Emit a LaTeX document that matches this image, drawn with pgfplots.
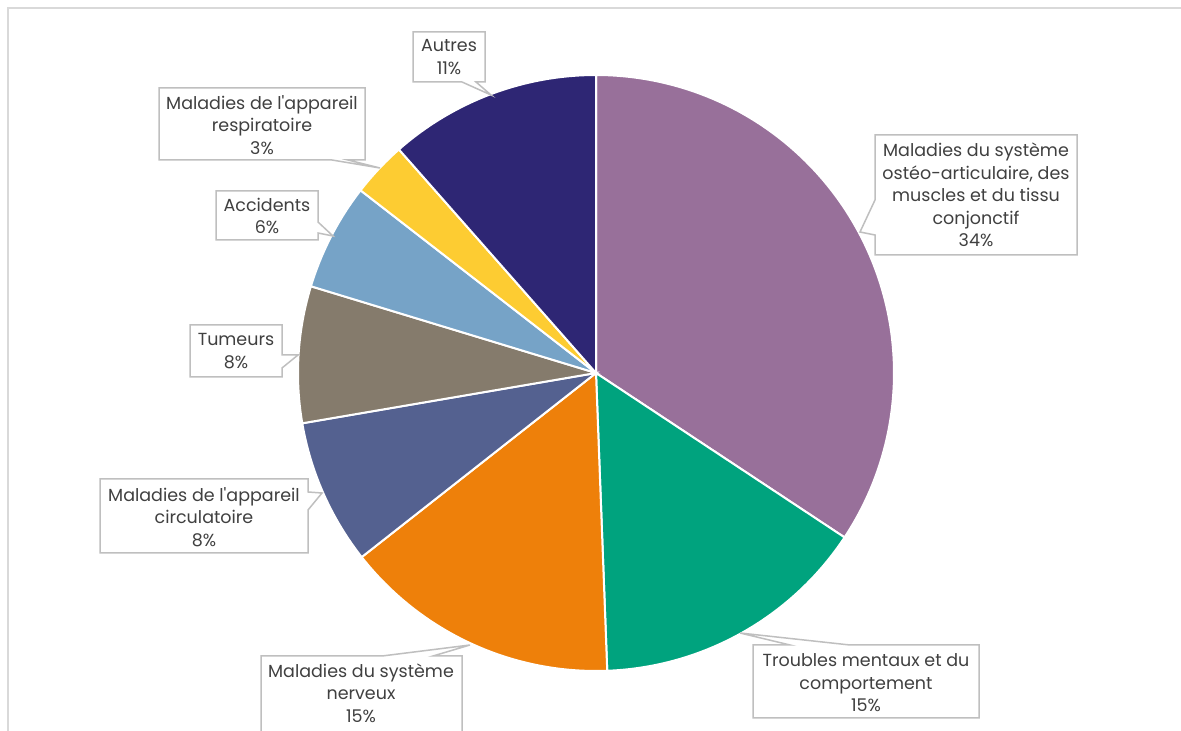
\documentclass[border=0pt]{standalone}
\usepackage{pgfplots}
\pgfplotsset{compat=1.18}
\usepackage{fontspec}
\setmainfont{Poppins}[Ligatures=TeXOff]
\definecolor{cA}{HTML}{98709A}
\definecolor{cB}{HTML}{00A37E}
\definecolor{cC}{HTML}{EE800A}
\definecolor{cD}{HTML}{546190}
\definecolor{cE}{HTML}{857B6C}
\definecolor{cF}{HTML}{76A3C7}
\definecolor{cG}{HTML}{FDCC32}
\definecolor{cH}{HTML}{2E2674}
\definecolor{boxgray}{HTML}{BFBFBF}
\definecolor{framegray}{HTML}{D9D9D9}
\definecolor{txt}{HTML}{404040}
% slice values (percent), clockwise from 12 o'clock
\def\vA{34.3} % Maladies du systeme osteo-articulaire
\def\vB{15.1} % Troubles mentaux et du comportement
\def\vC{15.0} % Maladies du systeme nerveux
\def\vD{7.9}  % Maladies de l'appareil circulatoire
\def\vE{7.4}  % Tumeurs
\def\vF{5.8}  % Accidents
\def\vG{3.0}  % Maladies de l'appareil respiratoire
\def\vH{11.5} % Autres
\pgfmathsetmacro\aA{90}
\pgfmathsetmacro\aB{\aA-3.6*\vA}
\pgfmathsetmacro\aC{\aB-3.6*\vB}
\pgfmathsetmacro\aD{\aC-3.6*\vC}
\pgfmathsetmacro\aE{\aD-3.6*\vD}
\pgfmathsetmacro\aF{\aE-3.6*\vE}
\pgfmathsetmacro\aG{\aF-3.6*\vF}
\pgfmathsetmacro\aH{\aG-3.6*\vG}
\pgfmathsetmacro\aI{\aH-3.6*\vH}
\newcommand{\slice}[3]{%
  \addplot[fill=#3, draw=white, line width=2pt, domain=#2:#1, samples=120, variable=\t]
    ({596+298*cos(\t)}, {358+298*sin(\t)}) -- (axis cs:596,358) -- cycle;}
\begin{document}
\begin{tikzpicture}
\useasboundingbox (0,0) rectangle (1181pt,731pt);
\begin{axis}[at={(0,0)}, anchor=south west, width=1181pt, height=731pt,
  scale only axis, xmin=0, xmax=1181, ymin=0, ymax=731, hide axis, clip=false]
\draw[framegray, line width=2pt] (axis cs:7.5,-20) -- (axis cs:7.5,722.5) -- (axis cs:1200,722.5);
\slice{\aA}{\aB}{cA}
\slice{\aB}{\aC}{cB}
\slice{\aC}{\aD}{cC}
\slice{\aD}{\aE}{cD}
\slice{\aE}{\aF}{cE}
\slice{\aF}{\aG}{cF}
\slice{\aG}{\aH}{cG}
\slice{\aH}{\aI}{cH}
\tikzset{cbox/.style={draw=boxgray, line width=1.5pt, fill=white},
  lbl/.style={align=center, text=txt, font=\fontsize{17.5}{22.5}\selectfont, inner sep=0pt}}
% Autres
\draw[cbox] (axis cs:413,699) -- (axis cs:485,699) -- (axis cs:485,649) -- (axis cs:476,649) -- (axis cs:491,636) -- (axis cs:462,649) -- (axis cs:413,649) -- cycle;
\node[lbl] at (axis cs:449,674) {Autres\\11\%};
% Respiratoire
\draw[cbox] (axis cs:159,643) -- (axis cs:365,643) -- (axis cs:365,571) -- (axis cs:348,571) -- (axis cs:380,563) -- (axis cs:332,571) -- (axis cs:159,571) -- cycle;
\node[lbl] at (axis cs:262,606) {Maladies de l'appareil\\respiratoire\\3\%};
% Accidents
\draw[cbox] (axis cs:216,540) -- (axis cs:318,540) -- (axis cs:318,509) -- (axis cs:333,495) -- (axis cs:318,498) -- (axis cs:318,491) -- (axis cs:216,491) -- cycle;
\node[lbl] at (axis cs:267,515) {Accidents\\6\%};
% Tumeurs
\draw[cbox] (axis cs:190,406) -- (axis cs:282,406) -- (axis cs:282,376) -- (axis cs:298,376) -- (axis cs:282,363) -- (axis cs:282,354) -- (axis cs:190,354) -- cycle;
\node[lbl] at (axis cs:236,380) {Tumeurs\\8\%};
% Circulatoire
\draw[cbox] (axis cs:100,252) -- (axis cs:308,252) -- (axis cs:308,239) -- (axis cs:322,238) -- (axis cs:308,221) -- (axis cs:308,178) -- (axis cs:100,178) -- cycle;
\node[lbl] at (axis cs:204,214) {Maladies de l'appareil\\circulatoire\\8\%};
% Nerveux
\draw[cbox] (axis cs:261,75) -- (axis cs:382,75) -- (axis cs:470,86) -- (axis cs:433,75) -- (axis cs:462,75) -- (axis cs:462,-10) -- (axis cs:261,-10) -- cycle;
\node[lbl] at (axis cs:361,38) {Maladies du système\\nerveux\\15\%};
% Troubles
\draw[cbox] (axis cs:753,86) -- (axis cs:790,86) -- (axis cs:740,98) -- (axis cs:850,86) -- (axis cs:979,86) -- (axis cs:979,13) -- (axis cs:753,13) -- cycle;
\node[lbl] at (axis cs:866,48) {Troubles mentaux et du\\comportement\\15\%};
% Osteo
\draw[cbox] (axis cs:875,596) -- (axis cs:1077,596) -- (axis cs:1077,476) -- (axis cs:875,476) -- (axis cs:875,496) -- (axis cs:860,499) -- (axis cs:875,531) -- cycle;
\node[lbl] at (axis cs:976,536) {Maladies du système\\ostéo-articulaire, des\\muscles et du tissu\\conjonctif\\34\%};
\end{axis}
\end{tikzpicture}
\end{document}
